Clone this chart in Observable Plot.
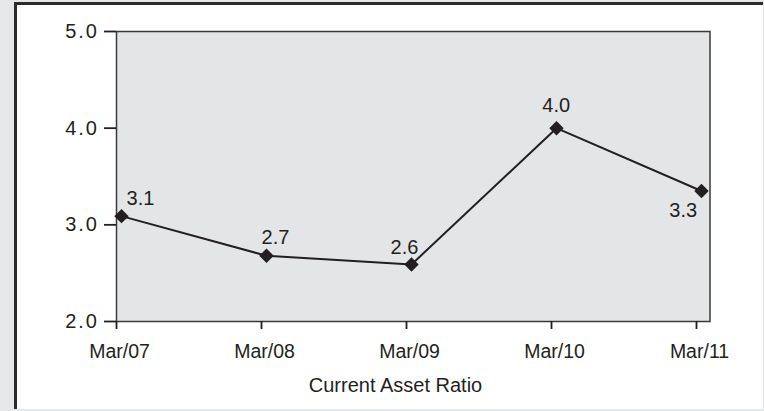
<!DOCTYPE html>
<html><head><meta charset="utf-8">
<script src="https://cdn.jsdelivr.net/npm/d3@7"></script>
<script src="https://cdn.jsdelivr.net/npm/@observablehq/plot@0.6"></script>
<style>
html,body{margin:0;padding:0;background:#e6e7e9;}
#wrap{position:relative;width:764px;height:411px;overflow:hidden;}
#panel{position:absolute;left:14px;top:2px;width:749px;height:407px;background:#fff;border-left:3px solid #2b2b2b;border-top:3px solid #2b2b2b;box-sizing:border-box;}
#chart{position:absolute;left:0;top:0;}
</style></head><body>
<div id="wrap"><div id="panel"></div><div id="chart"></div></div>
<script>
const periods = ["Mar/07", "Mar/08", "Mar/09", "Mar/10", "Mar/11"];
const ratios = [3.09, 2.68, 2.59, 4.00, 3.35];
const valueLabels = ["3.1", "2.7", "2.6", "4.0", "3.3"];
const yTicks = [2, 3, 4, 5];
const xTitle = "Current Asset Ratio";

const rows = periods.map((p, i) => ({period: p, ratio: ratios[i], label: valueLabels[i]}));
const ink = "#231f20";
const labelOffsets = [[24, -17.3], [14, -18.5], [-2, -17.2], [4.7, -22.8], [-13.3, 19.1]];

const chart = Plot.plot({
  width: 764, height: 411,
  marginLeft: 116, marginRight: 54.5, marginTop: 31, marginBottom: 90,
  style: {background: "transparent", fontFamily: "'Liberation Sans', Arial, sans-serif", color: ink},
  x: {type: "point", domain: periods, range: [116, 696], padding: 0},
  y: {domain: [2, 5]},
  marks: [
    Plot.frame({fill: "#e4e5e7", stroke: "#3a3a3a", strokeWidth: 1.5}),
    Plot.axisY({ticks: yTicks, tickFormat: d => d.toFixed(1), tickSize: 12, tickPadding: 5.5,
      fontSize: 20, label: null, color: ink, strokeWidth: 1.8}),
    Plot.axisX({tickSize: 8, tickFormat: () => "", label: null, color: ink, strokeWidth: 1.8}),
    Plot.axisX({tickSize: 0, tickPadding: 22.5, dx: 3, fontSize: 19.5, label: null, color: ink}),
    Plot.line(rows, {x: "period", y: "ratio", dx: 5, stroke: ink, strokeWidth: 2}),
    Plot.dot(rows, {x: "period", y: "ratio", dx: 5, symbol: "diamond2", r: 6.5, fill: ink, stroke: "none"}),
    ...rows.map((r, i) => Plot.text([r], {x: "period", y: "ratio", text: "label",
      dx: labelOffsets[i][0], dy: labelOffsets[i][1], fontSize: 20, fill: ink, ariaLabel: "value-label"})),
    Plot.text([xTitle], {frameAnchor: "bottom", lineAnchor: "middle", dx: -17.75, dy: 64.5, fontSize: 20, fill: ink})
  ]
});
chart.querySelectorAll('[aria-label="y-axis tick label"] text, [aria-label="value-label"] text')
  .forEach(t => t.setAttribute("letter-spacing", "2"));
document.getElementById("chart").appendChild(chart);
</script>
</body></html>
